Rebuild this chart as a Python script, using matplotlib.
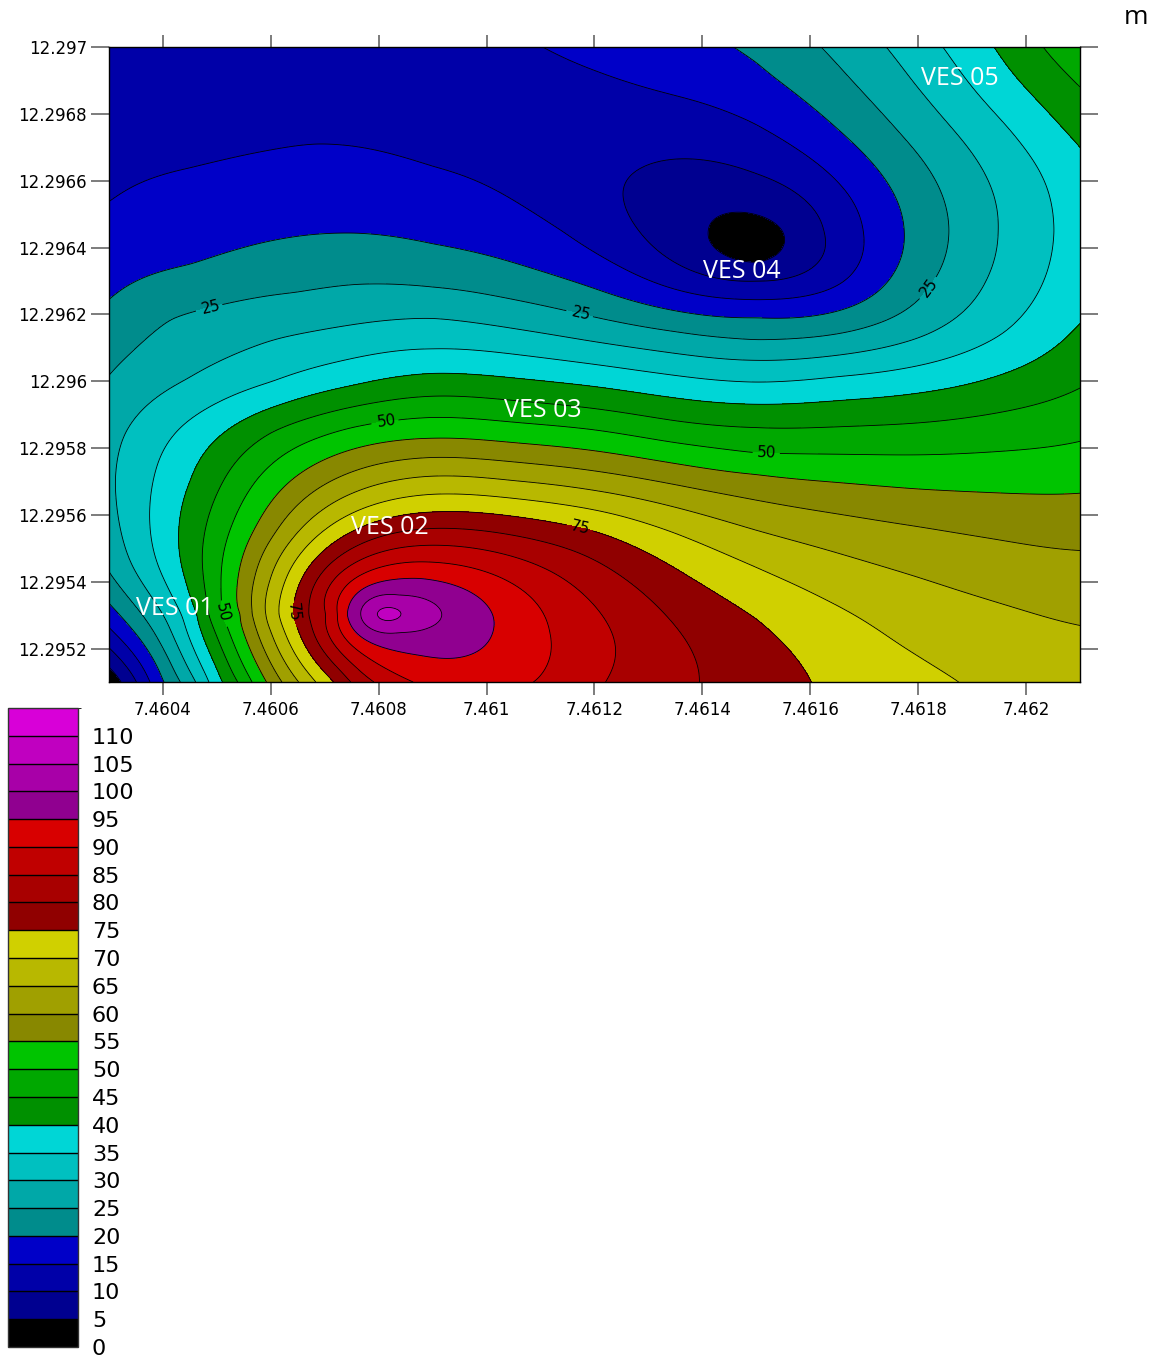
import numpy as np
import matplotlib
matplotlib.use("Agg")
import matplotlib.pyplot as plt
from matplotlib.colors import ListedColormap, BoundaryNorm
from matplotlib.cm import ScalarMappable

# ================= data =================
# coarse node grid (rows north -> south)
lon_nodes = [7.4603, 7.46045, 7.4606, 7.46075, 7.4609, 7.46105, 7.4612,
             7.46135, 7.4615, 7.46165, 7.4618, 7.46195, 7.4621]
lat_nodes = [12.2970, 12.2969, 12.29675, 12.2966, 12.29645, 12.2963, 12.29615,
             12.2960, 12.29585, 12.2957, 12.29555, 12.2954, 12.29525, 12.2951]
rho_grid = [
    [12.0, 12.0, 12.5, 13.0, 13.5, 14.5, 16.0, 18.3, 21.3, 26.2, 32.8, 40.5, 48.5],
    [12.5, 12.5, 13.0, 13.3, 13.5, 14.0, 14.5, 16.4, 19.3, 24.0, 30.6, 38.2, 45.5],
    [13.3, 13.5, 14.1, 14.2, 13.6, 13.3, 12.8, 12.0, 14.8, 19.9, 27.0, 33.8, 41.7],
    [14.5, 15.7, 16.6, 17.0, 16.0, 14.2, 11.0, 8.5, 9.1, 15.2, 23.3, 31.0, 38.0],
    [16.5, 17.8, 19.3, 19.9, 19.2, 17.2, 13.0, 7.4, 3.5, 11.8, 21.6, 30.1, 37.5],
    [19.0, 21.8, 23.8, 24.8, 24.3, 22.0, 19.2, 13.2, 10.3, 13.6, 23.9, 31.3, 38.0],
    [22.1, 26.1, 29.5, 30.8, 32.1, 30.4, 27.6, 25.2, 23.0, 24.2, 28.6, 34.2, 41.0],
    [25.5, 29.8, 34.0, 38.5, 41.7, 40.6, 39.0, 36.4, 34.8, 36.6, 38.0, 40.9, 44.5],
    [28.5, 36.4, 45.5, 51.3, 53.3, 51.8, 50.6, 47.0, 45.8, 45.9, 46.3, 47.6, 49.0],
    [29.3, 39.5, 52.5, 62.0, 66.4, 64.8, 62.5, 59.3, 56.3, 54.9, 53.8, 53.7, 53.8],
    [28.0, 42.0, 58.0, 75.0, 80.9, 79.0, 75.7, 69.8, 65.1, 62.6, 60.7, 59.3, 58.3],
    [23.5, 40.6, 64.5, 91.0, 95.5, 89.5, 82.6, 76.3, 71.4, 67.7, 65.4, 63.5, 62.0],
    [15.0, 36.0, 63.6, 94.0, 98.0, 92.8, 86.6, 80.2, 75.6, 72.0, 68.4, 67.0, 65.4],
    [1.0, 27.3, 56.0, 85.3, 92.5, 90.8, 85.5, 81.4, 77.4, 74.0, 71.0, 69.0, 67.5],
]

# contour crossings along the top edge (lat 12.2970)
top_lon = [7.461104, 7.461459, 7.461620, 7.461741, 7.461846, 7.461941, 7.462031]
top_val = [15, 20, 25, 30, 35, 40, 45]
# contour crossings along the bottom edge (lat 12.2951)
bot_lon = [7.460324, 7.460352, 7.460376, 7.460398, 7.460433, 7.460463, 7.460485,
           7.460507, 7.460541, 7.460565, 7.460591, 7.460620, 7.460652, 7.460683,
           7.460720, 7.461089, 7.461219, 7.461394, 7.461602, 7.461876]
bot_val = [5, 10, 15, 20, 25, 30, 35, 40, 45, 50, 55, 60, 65, 70, 75, 90, 85, 80, 75, 70]
# contour crossings along the left edge (lon 7.4603)
left_lat = [12.296536, 12.296243, 12.296018, 12.295428, 12.295335]
left_val = [15, 20, 25, 25, 20]
# contour crossings along the right edge (lon 7.4621)
right_lat = [12.296880, 12.296701, 12.296171, 12.295979, 12.295820, 12.295665,
             12.295494, 12.295269]
right_val = [45, 40, 40, 45, 50, 55, 60, 65]
# crossings down the meridian 7.4609
m1_lat = [12.296641, 12.296410, 12.296281, 12.296189, 12.296096, 12.296024, 12.295955,
          12.295892, 12.295829, 12.295772, 12.295716, 12.295662, 12.295608, 12.295560,
          12.295509, 12.295458, 12.295404]
m1_val = [15, 20, 25, 30, 35, 40, 45, 50, 55, 60, 65, 70, 75, 80, 85, 90, 95]
# crossings down the meridian 7.4615 (through the VES 04 low)
m2_lat = [12.296955, 12.296769, 12.296620, 12.296497, 12.296350, 12.296302, 12.296243,
          12.296192, 12.296123, 12.296063, 12.295997, 12.295931, 12.295862, 12.295784,
          12.295722, 12.295644, 12.295554, 12.295443, 12.295290]
m2_val = [20, 15, 10, 5, 5, 10, 15, 20, 25, 30, 35, 40, 45, 50, 55, 60, 65, 70, 75]
# crossings along the parallel 12.296449 (through the low)
p1_lon = [7.461141, 7.461283, 7.461413, 7.461550, 7.461624, 7.461698, 7.461774,
          7.461857, 7.461948, 7.462052]
p1_val = [15, 10, 5, 5, 10, 15, 20, 25, 30, 35]
# crossings along the parallel 12.295302 (through the VES 02 high)
p2_lon = [7.460463, 7.460485, 7.460509, 7.460544, 7.460565, 7.460591, 7.460615,
          7.460643, 7.460670, 7.460702, 7.460724, 7.460741, 7.460767, 7.460811,
          7.460917, 7.461011, 7.461331]
p2_val = [40, 45, 50, 55, 60, 65, 70, 75, 80, 85, 90, 95, 100, 106.5, 100, 95, 80]
# the 15 contour arc in the north-west
arc_lon = [7.460450, 7.460600, 7.460683, 7.460750, 7.460900]
arc_lat = [12.296638, 12.296692, 12.296710, 12.296704, 12.296644]
arc_val = [15, 15, 15, 15, 15]
# a few more scattered readings
sc_lon = [7.461117, 7.461239, 7.460839, 7.460839, 7.460876, 7.460876, 7.461481,
          7.460726, 7.460450, 7.460417, 7.460646, 7.461200]
sc_lat = [12.295249, 12.295201, 12.295359, 12.295249, 12.295410, 12.295180, 12.296425,
          12.296443, 12.296350, 12.296186, 12.296266, 12.296192]
sc_val = [90, 85, 100, 100, 95, 95, 3, 20, 20, 25, 25, 25]

ves_names = ["VES 01", "VES 02", "VES 03", "VES 04", "VES 05"]
ves_lon = [7.460422, 7.460820, 7.461104, 7.461474, 7.461878]
ves_lat = [12.295320, 12.295563, 12.295913, 12.296329, 12.296907]

levels = list(range(0, 120, 5))
band_colors = [
    "#000000", "#000090", "#0000A8", "#0000C8",
    "#008C8C", "#00A8A8", "#00C0C0", "#00D6D6",
    "#009000", "#00A800", "#00C400",
    "#888800", "#A0A000", "#B8B800", "#D0D000",
    "#900000", "#A80000", "#C00000", "#D80000",
    "#900090", "#A800A8", "#C000C0", "#D800D8",
]
label_levels = [25, 50, 75]
label_spots = [(7.460491, 12.296213), (7.461174, 12.296189), (7.461811, 12.296293),
               (7.460815, 12.295874), (7.461520, 12.295790), (7.460509, 12.295308),
               (7.460643, 12.295308), (7.461172, 12.295554)]
xticks = [7.4604, 7.4606, 7.4608, 7.4610, 7.4612, 7.4614, 7.4616, 7.4618, 7.4620]
yticks = [12.2952, 12.2954, 12.2956, 12.2958, 12.2960, 12.2962, 12.2964, 12.2966,
          12.2968, 12.2970]

# ================= gridding: smoothing thin-plate spline =================
LN, LT = np.meshgrid(np.array(lon_nodes), np.array(lat_nodes))
all_lon = [LN.ravel(), np.array(top_lon), np.array(bot_lon),
           np.full(len(left_lat), 7.4603), np.full(len(right_lat), 7.4621),
           np.full(len(m1_lat), 7.4609), np.full(len(m2_lat), 7.4615),
           np.array(p1_lon), np.array(p2_lon), np.array(arc_lon), np.array(sc_lon)]
all_lat = [LT.ravel(), np.full(len(top_lon), 12.2970), np.full(len(bot_lon), 12.2951),
           np.array(left_lat), np.array(right_lat), np.array(m1_lat), np.array(m2_lat),
           np.full(len(p1_lon), 12.296449), np.full(len(p2_lon), 12.295302),
           np.array(arc_lat), np.array(sc_lat)]
all_val = [np.array(rho_grid, float).ravel(), top_val, bot_val, left_val, right_val,
           m1_val, m2_val, p1_val, p2_val, arc_val, sc_val]
all_lam = [2.0, 0.2, 0.2, 0.2, 0.2, 0.2, 0.2, 0.2, 0.02, 0.1, 0.03]

LON0, LAT0 = 7.4603, 12.2951
px = np.concatenate([(np.asarray(v) - LON0) * 1e4 for v in all_lon])
py = np.concatenate([(np.asarray(v) - LAT0) * 1e4 for v in all_lat])
pz = np.concatenate([np.asarray(v, float) for v in all_val])
lam = np.concatenate([np.full(len(np.asarray(v)), l) for v, l in zip(all_val, all_lam)])


def _k(r):
    with np.errstate(divide="ignore", invalid="ignore"):
        out = r * r * np.log(r)
    return np.where(r > 0, out, 0.0)


n = len(px)
d = np.hypot(px[:, None] - px[None, :], py[:, None] - py[None, :])
A = np.zeros((n + 3, n + 3))
A[:n, :n] = _k(d) + np.diag(lam)
P = np.column_stack([np.ones(n), px, py])
A[:n, n:] = P
A[n:, :n] = P.T
coef = np.linalg.lstsq(A, np.concatenate([pz, np.zeros(3)]), rcond=None)[0]
w, a = coef[:n], coef[n:]

gx = np.linspace(7.4603, 7.4621, 360)
gy = np.linspace(12.2951, 12.2970, 300)
GX, GY = np.meshgrid(gx, gy)
ex = ((GX - LON0) * 1e4).ravel()
ey = ((GY - LAT0) * 1e4).ravel()
Z = np.empty(ex.size)
step = 10000
for i in range(0, ex.size, step):
    r = np.hypot(ex[i:i + step, None] - px[None, :], ey[i:i + step, None] - py[None, :])
    Z[i:i + step] = _k(r) @ w + a[0] + a[1] * ex[i:i + step] + a[2] * ey[i:i + step]
Z = np.clip(Z.reshape(GX.shape), 0.05, 114.9)

# ================= drawing =================
W, H = 1162, 1358
fig = plt.figure(figsize=(W / 100, H / 100), dpi=100)
ax = fig.add_axes([109 / W, (H - 682) / H, 971 / W, 635 / H])

cmap = ListedColormap(band_colors)
norm = BoundaryNorm(levels, cmap.N)
ax.contourf(GX, GY, Z, levels=levels, cmap=cmap, norm=norm)
ax.contour(GX, GY, Z, levels=[v for v in levels[1:-1] if v not in label_levels],
           colors="black", linewidths=0.6)
lab_cs = ax.contour(GX, GY, Z, levels=label_levels, colors="black", linewidths=0.6)
ax.clabel(lab_cs, levels=label_levels, fmt="%d", fontsize=11, inline=True,
          manual=label_spots, inline_spacing=4)

for name, lo, la in zip(ves_names, ves_lon, ves_lat):
    ax.text(lo, la, name, color="white", fontsize=18, family="Open Sans",
            ha="center", va="center")

ax.set_xlim(7.4603, 7.4621)
ax.set_ylim(12.2951, 12.2970)
ax.set_xticks(xticks)
ax.set_yticks(yticks)
fmt = lambda v: ("%.4f" % v).rstrip("0").rstrip(".")
ax.set_xticklabels([fmt(v) for v in xticks])
ax.set_yticklabels([fmt(v) for v in yticks])
ax.tick_params(direction="out", top=True, right=True, labeltop=False, labelright=False,
               labelsize=12, color="#666666", width=1.2)
ax.tick_params(axis="y", length=13, pad=3)
ax.tick_params(axis="x", length=9, pad=5)
for s in ax.spines.values():
    s.set_linewidth(1.0)
    s.set_color("black")

fig.text(1136 / W, 1 - 18 / H, "m", fontsize=19, family="Open Sans", ha="center", va="center")

cax = fig.add_axes([8 / W, 11 / H, 70 / W, 639 / H])
cb = fig.colorbar(ScalarMappable(norm=norm, cmap=cmap), cax=cax, ticks=levels[:-1],
                  drawedges=True, spacing="uniform")
cb.outline.set_edgecolor("#333333")
cb.outline.set_linewidth(1.0)
cb.dividers.set_color("black")
cb.dividers.set_linewidth(1.0)
cax.tick_params(length=0, labelsize=16, pad=10)
cb.set_ticklabels([str(v) for v in levels[:-1]])

fig.savefig("out.png", dpi=100)
